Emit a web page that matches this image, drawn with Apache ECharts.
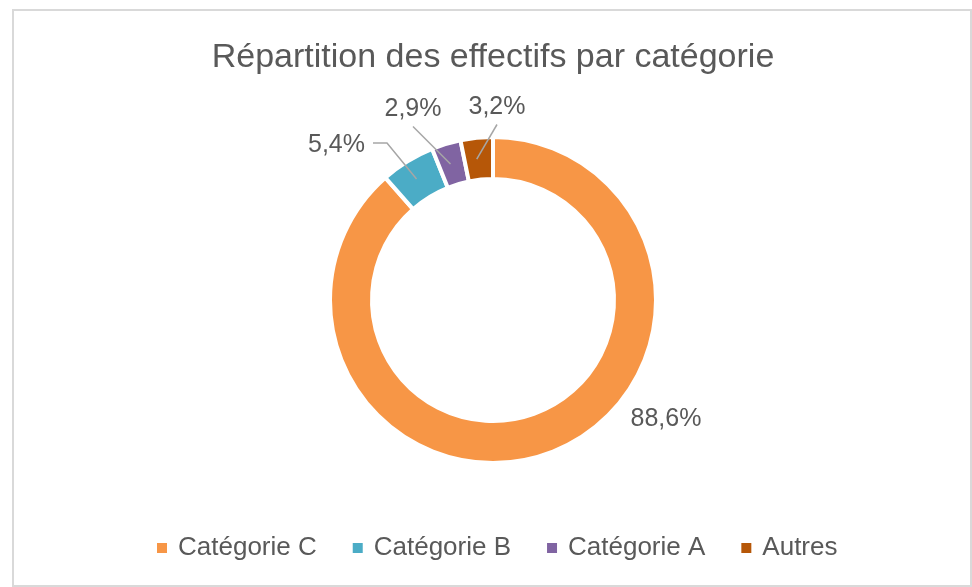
<!DOCTYPE html>
<html>
<head>
<meta charset="utf-8">
<script src="https://cdn.jsdelivr.net/npm/echarts@6/dist/echarts.min.js"></script>
<style>
  html, body { margin: 0; padding: 0; background: #fff; }
  #frame {
    position: absolute; left: 12px; top: 9px; width: 960px; height: 578px;
    border: 2px solid #d9d9d9; box-sizing: border-box;
  }
  #chart { position: absolute; left: 0; top: 0; width: 972px; height: 587px; }
</style>
</head>
<body>
<div id="frame"></div>
<div id="chart"></div>
<script>
const categories = ['Catégorie C', 'Catégorie B', 'Catégorie A', 'Autres']
const shares = [88.6, 5.4, 2.9, 3.2]
const shareLabels = ['88,6%', '5,4%', '2,9%', '3,2%']
const colors = ['#F79646', '#4BACC6', '#8064A2', '#B65708']

const textColor = '#595959'
const font = 'Liberation Sans'

// where Excel put each label (x, y = label anchor)
const labelSpots = [
  { x: 666, y: 419, align: 'center', side: 'none' },
  { x: 365, y: 145, align: 'right', side: 'left' },
  { x: 413, y: 109, align: 'center', side: 'top' },
  { x: 497, y: 107, align: 'center', side: 'top' },
]

const pieBase = {
  type: 'pie',
  center: [493, 300],
  radius: [121, 163],
  startAngle: 90,
  clockwise: true,
  avoidLabelOverlap: false,
  emphasis: { disabled: true },
}

const chart = echarts.init(document.getElementById('chart'))

chart.setOption({
  animation: false,
  backgroundColor: 'transparent',
  title: {
    text: 'Répartition des effectifs par catégorie',
    left: 493,
    textAlign: 'center',
    top: 41,
    padding: 0,
    textStyle: { color: textColor, fontFamily: font, fontSize: 34, fontWeight: 'normal' },
  },
  legend: {
    data: categories,
    left: 155,
    top: 535,
    padding: 0,
    icon: 'rect',
    itemWidth: 12,
    itemHeight: 12,
    itemGap: 34,
    textStyle: { color: textColor, fontFamily: font, fontSize: 26, padding: [0, 0, 0, 5] },
  },
  series: [
    {
      ...pieBase,
      itemStyle: { borderColor: '#fff', borderWidth: 4 },
      label: { show: false },
      labelLine: { show: false },
      data: categories.map((name, i) => ({
        name,
        value: shares[i],
        itemStyle: { color: colors[i] },
      })),
    },
    // transparent copy on top, so the leader lines are drawn over the ring
    {
      ...pieBase,
      z: 5,
      silent: true,
      itemStyle: { color: 'rgba(0,0,0,0)', borderWidth: 0 },
      label: {
        show: true,
        position: 'outside',
        color: textColor,
        fontFamily: font,
        fontSize: 25,
        formatter: p => shareLabels[p.dataIndex],
      },
      labelLine: {
        show: true,
        showAbove: true,
        lineStyle: { color: '#a6a6a6', width: 1.5 },
      },
      labelLayout: function (p) {
        const spot = labelSpots[p.dataIndex]
        const r = p.labelRect
        const ax = spot.align === 'right' ? r.x + r.width : r.x + r.width / 2
        const out = { dx: spot.x - ax, dy: spot.y - (r.y + r.height / 2) }
        const cx = p.rect.x + p.rect.width / 2
        const cy = p.rect.y + p.rect.height / 2
        if (spot.side === 'left') {
          out.labelLinePoints = [[cx, cy], [spot.x + 22, spot.y - 2], [spot.x + 8, spot.y - 2]]
        } else if (spot.side === 'top') {
          out.labelLinePoints = [[cx, cy], [spot.x, spot.y + r.height / 2 + 5], [spot.x, spot.y + r.height / 2 + 5]]
        }
        return out
      },
      data: categories.map((name, i) => ({
        name: name + ' ',
        value: shares[i],
        labelLine: { show: i !== 0 },
      })),
    },
  ],
})
</script>
</body>
</html>
